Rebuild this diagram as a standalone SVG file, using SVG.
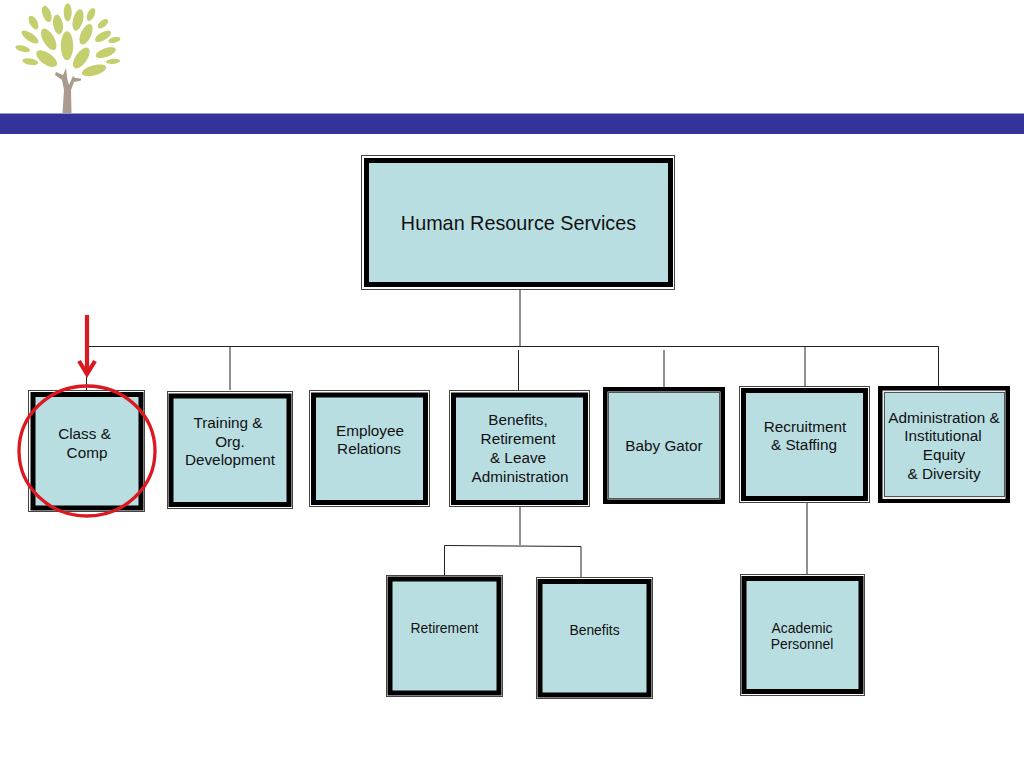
<svg xmlns="http://www.w3.org/2000/svg" width="1024" height="768" viewBox="0 0 1024 768">
<style>
.outer{fill:#fff;stroke:#444;stroke-width:1}
.thick{fill:#b9dee2;stroke:#000;stroke-width:5}
.thickout{fill:#000}
.fill{fill:#b9dee2;stroke:#555;stroke-width:1}
.t{font-family:"Liberation Sans",Arial,sans-serif;font-size:15.3px;fill:#111;text-anchor:middle}
.s{font-size:13.9px}
.c{stroke:#222;stroke-width:1;fill:none}
.leaf{fill:#c6cf6d}
.red{fill:none;stroke:#dc1820}
</style>
<g id="logo">
<polygon points="62.500,113 64,90 62,80 55,75 56,72 63,75 66,68 67.500,80 69,85 73,76 75,78 81,78.500 81,80.500 74,82 71,90 71.500,113" fill="#a99b8d"/>
<g class="leaf">
<ellipse cx="67.700" cy="12.300" rx="9" ry="4" transform="rotate(90 67.700 12.300)"/>
<ellipse cx="46.700" cy="14" rx="8.500" ry="4.200" transform="rotate(70 46.700 14)"/>
<ellipse cx="33.500" cy="22.500" rx="7.500" ry="3.800" transform="rotate(60 33.500 22.500)"/>
<ellipse cx="78" cy="20" rx="11" ry="5" transform="rotate(-75 78 20)"/>
<ellipse cx="91" cy="14.500" rx="7" ry="3.500" transform="rotate(-65 91 14.500)"/>
<ellipse cx="58" cy="24.500" rx="10" ry="4.800" transform="rotate(80 58 24.500)"/>
<ellipse cx="103" cy="23.700" rx="6.200" ry="3.300" transform="rotate(-40 103 23.700)"/>
<ellipse cx="30" cy="37" rx="10" ry="4" transform="rotate(35 30 37)"/>
<ellipse cx="48.700" cy="39.300" rx="12" ry="5.600" transform="rotate(60 48.700 39.300)"/>
<ellipse cx="67" cy="45.700" rx="14.500" ry="6.200" transform="rotate(90 67 45.700)"/>
<ellipse cx="86" cy="34.300" rx="11" ry="5.200" transform="rotate(-65 86 34.300)"/>
<ellipse cx="103" cy="36.300" rx="9" ry="4" transform="rotate(-30 103 36.300)"/>
<ellipse cx="114.300" cy="40" rx="6.200" ry="2.800" transform="rotate(-15 114.300 40)"/>
<ellipse cx="22.700" cy="48.700" rx="7.500" ry="3" transform="rotate(15 22.700 48.700)"/>
<ellipse cx="46.700" cy="58.700" rx="12" ry="5.800" transform="rotate(35 46.700 58.700)"/>
<ellipse cx="81.300" cy="58" rx="12" ry="5.800" transform="rotate(-55 81.300 58)"/>
<ellipse cx="105.700" cy="52.700" rx="10.700" ry="4.400" transform="rotate(-20 105.700 52.700)"/>
<ellipse cx="113" cy="61.300" rx="7" ry="2.600" transform="rotate(-5 113 61.300)"/>
<ellipse cx="30.300" cy="61.700" rx="8" ry="3.200" transform="rotate(10 30.300 61.700)"/>
<ellipse cx="94" cy="70.300" rx="12.500" ry="5" transform="rotate(-15 94 70.300)"/>
</g>
</g>
<rect id="banner" x="0" y="113.500" width="1024" height="20.500" fill="#333399"/>
<g id="connectors">
<path class="c" d="M520 290V346.500M87 346.500H938.500V386M230 346.500V390M805 346.500V387M518.500 350V390M664 350V387M86.500 346.500V390M520 507V545M444.500 576V545.500L581 546.500V577M807 503V574"/>
</g>
<g id="node-hrs">
<rect class="outer" x="361.500" y="155.500" width="313" height="134"/>
<rect class="thick" x="366.500" y="160.500" width="304" height="124"/>
<text class="t" x="518.500" y="230" style="font-size:19.800px">Human Resource Services</text>
</g>
<g id="node-class-comp">
<rect class="outer" x="28.500" y="390.500" width="116" height="121"/>
<rect class="thick" x="33" y="394.500" width="108" height="113.500"/>
<text class="t" x="84.500" y="439">Class &amp;</text>
<text class="t" x="87" y="458">Comp</text>
</g>
<g id="node-training">
<rect class="outer" x="167.500" y="391.500" width="125" height="117"/>
<rect class="thick" x="171" y="396" width="118" height="108.500"/>
<text class="t" x="228" y="428">Training &amp;</text>
<text class="t" x="230" y="447">Org.</text>
<text class="t" x="230" y="465">Development</text>
</g>
<g id="node-employee">
<rect class="outer" x="309.500" y="390.500" width="120" height="116"/>
<rect class="thick" x="313.500" y="395" width="112" height="107.500"/>
<text class="t" x="370" y="436">Employee</text>
<text class="t" x="369" y="454">Relations</text>
</g>
<g id="node-benefits-retirement">
<rect class="outer" x="449.500" y="390.500" width="140" height="116"/>
<rect class="thick" x="453.500" y="395" width="132" height="107.500"/>
<text class="t" x="518" y="425">Benefits,</text>
<text class="t" x="518" y="444">Retirement</text>
<text class="t" x="518" y="463">&amp; Leave</text>
<text class="t" x="520" y="482">Administration</text>
</g>
<g id="node-baby-gator">
<rect class="thickout" x="603" y="387" width="122" height="117"/>
<rect x="607.500" y="391.500" width="113" height="108" fill="#eee"/>
<rect class="fill" x="608.500" y="392.500" width="111" height="106"/>
<text class="t" x="664" y="451">Baby Gator</text>
</g>
<g id="node-recruitment">
<rect class="outer" x="739.500" y="386.500" width="130" height="116"/>
<rect class="thick" x="743.500" y="390.500" width="122" height="108"/>
<text class="t" x="805" y="432">Recruitment</text>
<text class="t" x="804" y="450">&amp; Staffing</text>
</g>
<g id="node-administration">
<rect class="thickout" x="878" y="386" width="132" height="117"/>
<rect x="882.500" y="390.500" width="123" height="108.500" fill="#eee"/>
<rect class="fill" x="884.500" y="392.500" width="120" height="104"/>
<text class="t" x="944" y="423">Administration &amp;</text>
<text class="t" x="943" y="441">Institutional</text>
<text class="t" x="944" y="460">Equity</text>
<text class="t" x="944" y="479">&amp; Diversity</text>
</g>
<g id="node-retirement">
<rect class="outer" x="386.500" y="575.500" width="116" height="121"/>
<rect class="thick" x="390" y="579" width="109" height="114"/>
<text class="t s" x="444.500" y="633">Retirement</text>
</g>
<g id="node-benefits">
<rect class="outer" x="536.500" y="577.500" width="116" height="121"/>
<rect class="thick" x="540" y="581.500" width="109" height="113.500"/>
<text class="t s" x="594.500" y="635">Benefits</text>
</g>
<g id="node-academic">
<rect class="outer" x="740.500" y="574.500" width="124" height="121"/>
<rect class="thick" x="744" y="578.500" width="117" height="113"/>
<text class="t s" x="802" y="633">Academic</text>
<text class="t s" x="802" y="649">Personnel</text>
</g>
<g id="highlight">
<ellipse class="red" cx="87" cy="451" rx="68" ry="65" stroke-width="3.300"/>
<path class="red" d="M87 315V373M79 361L87 374L95 361" stroke-width="4.200"/>
</g>
</svg>
